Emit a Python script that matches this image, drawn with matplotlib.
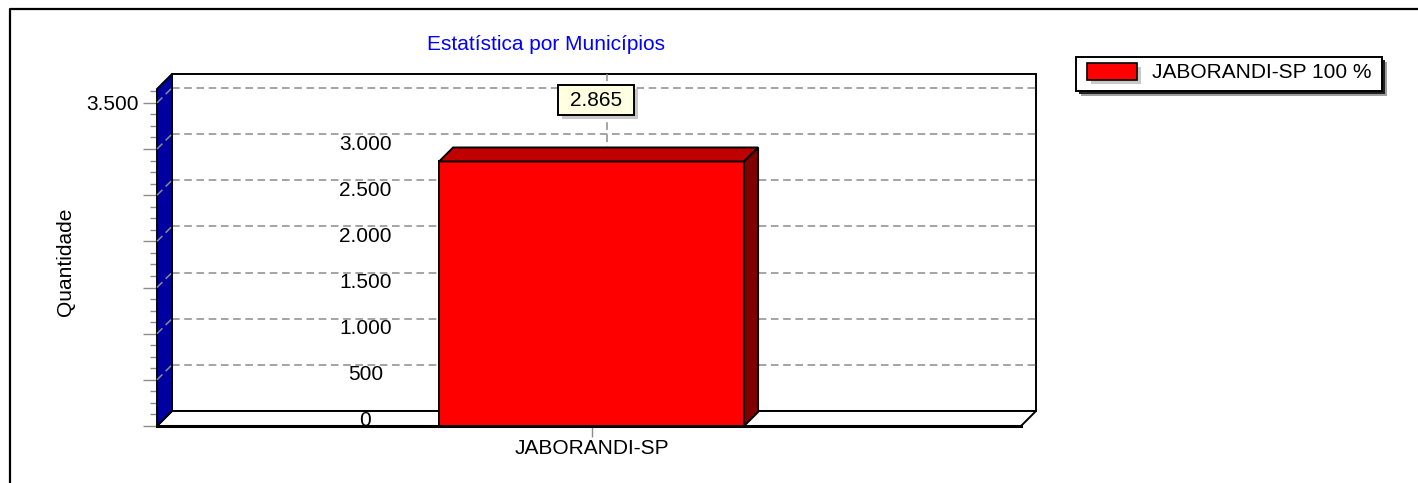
import matplotlib
matplotlib.use("Agg")
import matplotlib.pyplot as plt
from matplotlib.patches import Polygon, Rectangle
from matplotlib.lines import Line2D
from matplotlib.ticker import MultipleLocator
from matplotlib.transforms import Affine2D, IdentityTransform, blended_transform_factory, offset_copy

plt.rcParams["font.family"] = ["Liberation Sans", "DejaVu Sans"]

W, H, DPI = 1418, 483, 100

# dados
titulo = "Estatística por Municípios"
rotulo_y = "Quantidade"
municipios = ["JABORANDI-SP"]
quantidades = [2865]
y_ticks = [0, 500, 1000, 1500, 2000, 2500, 3000, 3500]
y_max = 3650

DEPTH = 15      # profundidade das paredes (px)
BAR_DEPTH = 14  # profundidade da barra (px)
FS = 15


def fmt(v):
    return f"{v:,}".replace(",", ".")


fig = plt.figure(figsize=(W / DPI, H / DPI), dpi=DPI)
px = Affine2D().scale(1, -1).translate(0, H)  # pixels, origem no canto superior esquerdo
ident = IdentityTransform()

ax = fig.add_axes([157 / W, (H - 426) / H, 864 / W, (426 - 89) / H])
ax.set_xlim(-0.503, 0.497)
ax.set_ylim(0, y_max)
ax.patch.set_visible(False)
for s in ax.spines.values():
    s.set_visible(False)

x0, x1 = ax.get_xlim()


def pt(x, v, d=0):
    X, Y = ax.transData.transform((x, v))
    return (X + d, Y + d)


def poly(points, fc, z, ec="black", lw=1.4):
    ax.add_patch(Polygon(points, closed=True, fc=fc, ec=ec, lw=lw,
                         transform=ident, clip_on=False, zorder=z))


def line(p, q, z, color="black", lw=1.4, ls="-"):
    xs, ys = zip(p, q)
    ax.add_line(Line2D(xs, ys, color=color, lw=lw, ls=ls, dashes=(5, 3) if ls == "--" else (None, None),
                       transform=ident, clip_on=False, zorder=z))


# parede de fundo
poly([pt(x0, 0, DEPTH), pt(x1, 0, DEPTH), pt(x1, y_max, DEPTH), pt(x0, y_max, DEPTH)], "white", 1)
# piso
poly([pt(x0, 0), pt(x1, 0), pt(x1, 0, DEPTH), pt(x0, 0, DEPTH)], "white", 1.5)
line(pt(x0, 0), pt(x1, 0), 1.6, lw=2.2)

# grade
for v in y_ticks[1:]:
    line(pt(x0, v, DEPTH), pt(x1, v, DEPTH), 2, color="#8c8c8c", lw=1.1, ls="--")
for x in range(len(municipios)):
    line(pt(x, 0, DEPTH), pt(x, y_max, DEPTH), 2, color="#8c8c8c", lw=1.1, ls="--")

# parede lateral
poly([pt(x0, 0), pt(x0, 0, DEPTH), pt(x0, y_max, DEPTH), pt(x0, y_max)], "#0000a0", 3)
for v in y_ticks[1:]:
    line(pt(x0, v), pt(x0, v, DEPTH), 3.5, color="#8c8c8c", lw=1.1, ls="--")

# barras
bw = 0.353
for i, q in enumerate(quantidades):
    l, r = i - bw / 2, i + bw / 2
    poly([pt(l, 0), pt(r, 0), pt(r, q), pt(l, q)], "#ff0000", 5)
    poly([pt(l, q), pt(r, q), pt(r, q, BAR_DEPTH), pt(l, q, BAR_DEPTH)], "#c00000", 5)
    poly([pt(r, 0), pt(r, 0, BAR_DEPTH), pt(r, q, BAR_DEPTH), pt(r, q)], "#800000", 5)

    # rótulo do valor
    cx, cy = pt(i, q)
    cx, cy = cx + 4, cy + 61
    ax.add_patch(Rectangle((cx - 38 + 4, cy - 15 - 4), 76, 30, fc="#c8c8c8", ec="none",
                           transform=ident, clip_on=False, zorder=6))
    ax.add_patch(Rectangle((cx - 38, cy - 15), 76, 30, fc="#ffffe1", ec="black", lw=1.4,
                           transform=ident, clip_on=False, zorder=7))
    ax.text(cx, cy, fmt(q), transform=ident, ha="center", va="center", fontsize=FS, zorder=8)

# eixos
ax.set_yticks(y_ticks)
ax.set_yticklabels([""] * (len(y_ticks) - 1) + [fmt(y_ticks[-1])])
ax.yaxis.set_minor_locator(MultipleLocator(125))
ax.tick_params(axis="y", which="major", length=10, width=1, color="#8c8c8c", labelsize=FS, pad=3)
ax.tick_params(axis="y", which="minor", length=5, width=1, color="#8c8c8c")
ax.set_xticks(range(len(municipios)))
ax.set_xticklabels(municipios)
ax.tick_params(axis="x", length=8, width=1, color="#8c8c8c", labelsize=FS, pad=1)

# rótulos internos (como no original)
tr = offset_copy(blended_transform_factory(ax.transAxes, ax.transData), fig, x=0, y=5, units="dots")
for v in y_ticks[:-1]:
    ax.text(0.241, v, fmt(v), transform=tr, ha="center", va="center", fontsize=FS, zorder=4)

# títulos
fig.text(546, 44, titulo, transform=px, ha="center", va="center", color="#0000ff", fontsize=FS)
fig.text(66, 262, rotulo_y, transform=px, ha="center", va="center", rotation=90, fontsize=FS)

# legenda
total = sum(quantidades)
fig.add_artist(Rectangle((1081, 62), 306, 34, transform=px, fc="#a0a0a0", ec="none"))
fig.add_artist(Rectangle((1079, 60), 306, 34, transform=px, fc="#202020", ec="none"))
fig.add_artist(Rectangle((1076, 57), 306, 34, transform=px, fc="white", ec="black", lw=1.4))
for i, (m, q) in enumerate(zip(municipios, quantidades)):
    fig.add_artist(Rectangle((1091, 67), 50, 17, transform=px, fc="#c8c8c8", ec="none"))
    fig.add_artist(Rectangle((1087, 63), 50, 17, transform=px, fc="#ff0000", ec="black", lw=1.2))
    fig.text(1152, 72, f"{m} {round(100 * q / total)} %", transform=px, ha="left", va="center", fontsize=FS)

# moldura
fig.add_artist(Line2D([10, 10, W], [H, 9, 9], transform=px, color="black", lw=1.6))

fig.savefig("out.png", dpi=DPI)
